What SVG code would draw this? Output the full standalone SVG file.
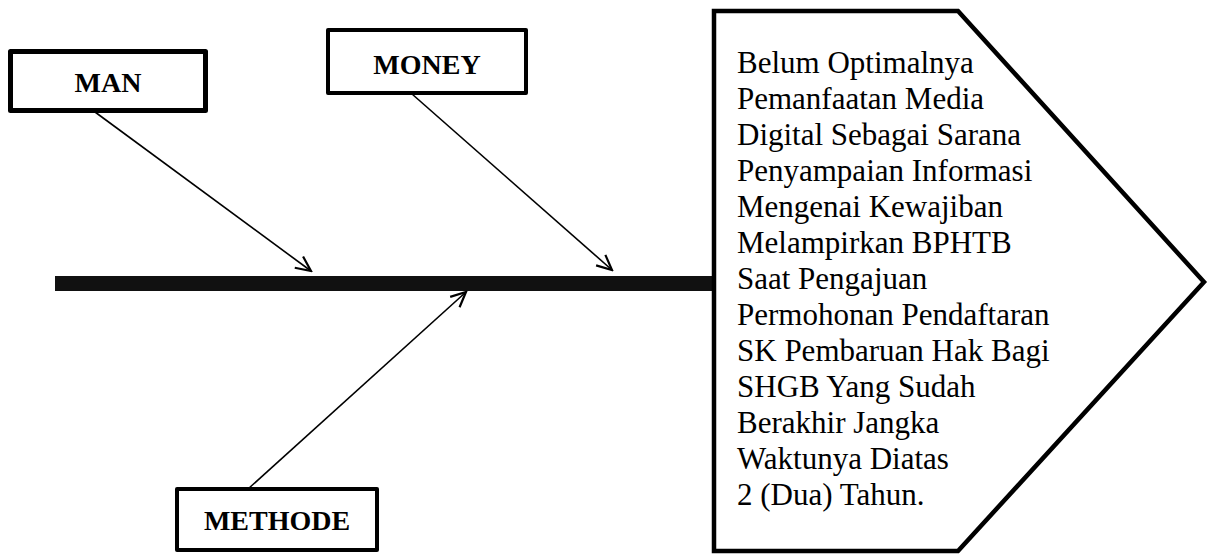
<svg xmlns="http://www.w3.org/2000/svg" width="1209" height="554" viewBox="0 0 1209 554">
  <style>
    .box { fill: #ffffff; stroke: #000000; stroke-linejoin: round; }
    .lbl { font-family: "Liberation Serif", "Times New Roman", serif; font-weight: bold; font-size: 28px; fill: #000000; text-anchor: middle; }
    .body { font-family: "Liberation Serif", "Times New Roman", serif; font-size: 31px; fill: #000000; }
    .bone { stroke: #000000; stroke-width: 1.6; fill: none; marker-end: url(#arr); }
  </style>
  <defs>
    <marker id="arr" markerUnits="userSpaceOnUse" viewBox="-18 -10 20 20" refX="0" refY="0" markerWidth="20" markerHeight="20" orient="auto">
      <path d="M -15 -7 L 0 0 L -15 7" fill="none" stroke="#000000" stroke-width="2.2" stroke-linejoin="miter"/>
    </marker>
  </defs>
  <rect width="1209" height="554" fill="#ffffff"/>

  <g id="spine">
    <rect x="55" y="276" width="659" height="15" fill="#111111"/>
  </g>

  <g id="connectors">
    <line class="bone" x1="95" y1="112" x2="311" y2="271"/>
    <line class="bone" x1="412" y1="94" x2="612" y2="270"/>
    <line class="bone" x1="248" y1="489" x2="466" y2="292"/>
  </g>

  <g id="node-man">
    <rect class="box" x="10.5" y="51.5" width="195" height="59" stroke-width="5"/>
    <text class="lbl" x="108" y="92">MAN</text>
  </g>

  <g id="node-money">
    <rect class="box" x="328" y="30" width="198" height="63" stroke-width="4"/>
    <text class="lbl" x="427" y="74">MONEY</text>
  </g>

  <g id="node-methode">
    <rect class="box" x="177" y="489" width="200" height="61" stroke-width="4"/>
    <text class="lbl" x="277" y="530">METHODE</text>
  </g>

  <g id="node-effect">
    <polygon points="714,11 958,11 1204,282 958,551 714,551" fill="#ffffff" stroke="#000000" stroke-width="4.5" stroke-linejoin="miter"/>
    <text class="body" x="737" y="73">Belum Optimalnya</text>
    <text class="body" x="737" y="109">Pemanfaatan Media</text>
    <text class="body" x="737" y="145">Digital Sebagai Sarana</text>
    <text class="body" x="737" y="181">Penyampaian Informasi</text>
    <text class="body" x="737" y="217">Mengenai Kewajiban</text>
    <text class="body" x="737" y="253">Melampirkan BPHTB</text>
    <text class="body" x="737" y="289">Saat Pengajuan</text>
    <text class="body" x="737" y="325">Permohonan Pendaftaran</text>
    <text class="body" x="737" y="361">SK Pembaruan Hak Bagi</text>
    <text class="body" x="737" y="397">SHGB Yang Sudah</text>
    <text class="body" x="737" y="433">Berakhir Jangka</text>
    <text class="body" x="737" y="469">Waktunya Diatas</text>
    <text class="body" x="737" y="505">2 (Dua) Tahun.</text>
  </g>
</svg>
